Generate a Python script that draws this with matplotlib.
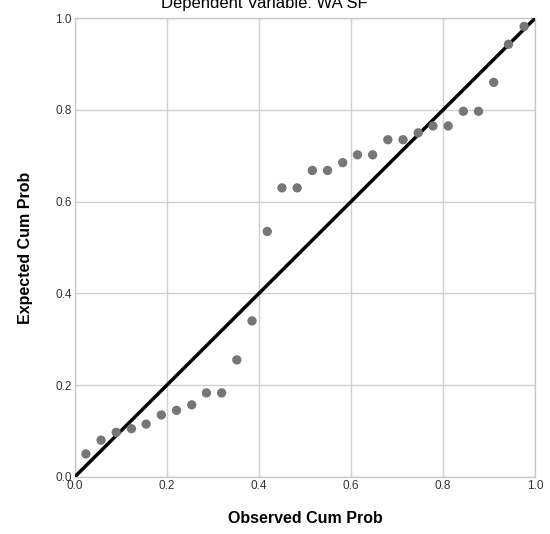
import numpy as np
import matplotlib.pyplot as plt

plt.rcParams['font.family'] = ['Liberation Sans', 'DejaVu Sans']

# observed vs expected cumulative probabilities
observed = [0.024, 0.057, 0.090, 0.123, 0.155, 0.188, 0.221, 0.254, 0.286, 0.319,
            0.352, 0.385, 0.418, 0.450, 0.483, 0.516, 0.549, 0.582, 0.614, 0.647,
            0.680, 0.713, 0.746, 0.778, 0.811, 0.844, 0.877, 0.910, 0.942, 0.976]
expected = [0.050, 0.080, 0.097, 0.105, 0.115, 0.135, 0.145, 0.157, 0.183, 0.183,
            0.255, 0.340, 0.535, 0.630, 0.630, 0.668, 0.668, 0.685, 0.702, 0.702,
            0.735, 0.735, 0.750, 0.765, 0.765, 0.797, 0.797, 0.860, 0.943, 0.982]
ticks = [0.0, 0.2, 0.4, 0.6, 0.8, 1.0]
tick_labels = ["0.0", "0.2", "0.4", "0.6", "0.8", "1.0"]

fig = plt.figure(figsize=(5.5, 5.34), dpi=100)
ax = fig.add_axes([0.136, 0.107, 0.837, 0.859])

ax.set_xlim(0, 1)
ax.set_ylim(0, 1)
ax.set_xticks(ticks)
ax.set_yticks(ticks)
ax.set_xticklabels(tick_labels)
ax.set_yticklabels(tick_labels)
ax.tick_params(length=0, labelsize=8.5, colors='#333333', pad=2)
ax.grid(True, color='#d0d0d0', lw=1)
ax.set_axisbelow(True)
for s in ax.spines.values():
    s.set_color('#c8c8c8')
    s.set_linewidth(1)

ax.plot([0, 1], [0, 1], color='black', lw=2.5, zorder=3)
ax.scatter(observed, expected, s=45, color='#767676', edgecolors='none', zorder=4, clip_on=False)

ax.set_xlabel("Observed Cum Prob", fontsize=11.5, fontweight='bold', labelpad=14)
ax.set_ylabel("Expected Cum Prob", fontsize=11.5, fontweight='bold', labelpad=16)

fig.text(0.48, 0.994, "Dependent Variable: WA SF", ha='center', va='center', fontsize=12)

fig.savefig("out.png", dpi=100)
